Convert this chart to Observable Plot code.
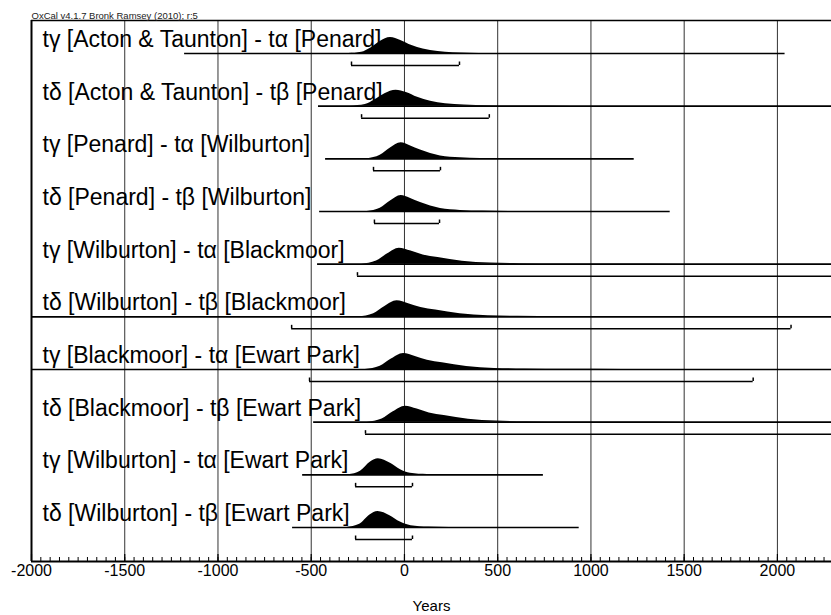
<!DOCTYPE html>
<html><head><meta charset="utf-8">
<script src="https://cdn.jsdelivr.net/npm/d3@7"></script>
<script src="https://cdn.jsdelivr.net/npm/@observablehq/plot@0.6"></script>
<style>body{margin:0;background:#fff} #chart svg{display:block}</style>
</head><body><div id="chart"></div>
<script>
// ---- data ----
const labels = [
  "tγ [Acton & Taunton] - tα [Penard]",
  "tδ [Acton & Taunton] - tβ [Penard]",
  "tγ [Penard] - tα [Wilburton]",
  "tδ [Penard] - tβ [Wilburton]",
  "tγ [Wilburton] - tα [Blackmoor]",
  "tδ [Wilburton] - tβ [Blackmoor]",
  "tγ [Blackmoor] - tα [Ewart Park]",
  "tδ [Blackmoor] - tβ [Ewart Park]",
  "tγ [Wilburton] - tα [Ewart Park]",
  "tδ [Wilburton] - tβ [Ewart Park]"
];
// extent of each distribution (baseline line), years
const lineStart = [-1179, -461, -423, -455, -466, -2600, -2600, -487, -546, -600];
const lineEnd   = [2041, 2600, 1232, 1425, 2600, 2600, 2600, 2600, 745, 937];
// 95.4% ranges (brackets), years
const rangeStart = [-284, -230, -166, -161, -252, -605, -509, -209, -262, -262];
const rangeEnd   = [295, 455, 193, 188, 2600, 2073, 1870, 2600, 43, 43];
// density outlines: years and relative heights
const densityYears = [
  [-300,-230,-180,-130,-75,-20,40,100,180,260,350,450],
  [-290,-210,-160,-105,-45,10,70,140,220,320,450,650,900],
  [-200,-130,-75,-18,30,86,140,193,300,407,520],
  [-200,-130,-75,-18,30,86,140,193,300,420,560],
  [-230,-150,-90,-28,35,100,180,310,460,620,850,1150,1500],
  [-245,-165,-105,-40,22,88,168,298,448,608,838,1138,1500],
  [-210,-130,-70,-5,58,123,203,333,483,643,873,1173,1500],
  [-200,-120,-60,5,68,133,213,343,493,653,883,1183,1500],
  [-300,-236,-182,-140,-75,-21,32,123,220],
  [-310,-240,-185,-142,-78,-22,35,130,240]
];
const densityHeights = [
  [0,0.08,0.35,0.75,1,0.82,0.5,0.28,0.12,0.05,0.015,0],
  [0,0.1,0.38,0.78,1,0.85,0.55,0.3,0.15,0.07,0.03,0.01,0],
  [0,0.22,0.68,1,0.82,0.55,0.33,0.18,0.06,0.02,0],
  [0,0.2,0.66,1,0.83,0.56,0.34,0.19,0.07,0.025,0],
  [0,0.2,0.65,1,0.82,0.58,0.42,0.19,0.07,0.03,0.012,0.004,0],
  [0,0.2,0.65,1,0.82,0.58,0.42,0.19,0.07,0.03,0.012,0.004,0],
  [0,0.2,0.65,1,0.82,0.58,0.42,0.19,0.07,0.03,0.012,0.004,0],
  [0,0.2,0.65,1,0.82,0.58,0.42,0.19,0.07,0.03,0.012,0.004,0],
  [0,0.22,0.8,1,0.72,0.32,0.1,0.02,0],
  [0,0.2,0.78,1,0.74,0.34,0.11,0.025,0]
];
const majorTicks = [-2000, -1500, -1000, -500, 0, 500, 1000, 1500, 2000];
const gridTicks = [-1500, -1000, -500, 0, 500, 1000, 1500, 2000];
const xLabel = "Years";
const note = "OxCal v4.1.7 Bronk Ramsey (2010); r:5";

// ---- layout ----
const W = 831, H = 615, mTop = 20, mBottom = 54, mLeft = 31, mRight = 0;
const step = 52.667;               // px per row
const px = p => p / step;          // px -> row units
const yTop = px(-33), yBot = px(561 - 53);
const peakPx = 16;

const rows = labels.map((label, i) => ({
  i, label,
  lineStart: lineStart[i], lineEnd: lineEnd[i],
  rangeStart: rangeStart[i], rangeEnd: rangeEnd[i],
  bar: i + px(12)
}));
const area = [];
densityYears.forEach((ys, i) => ys.forEach((yr, k) => {
  area.push({i, year: yr, base: i, top: i - densityHeights[i][k] * px(peakPx)});
}));
const minorTicks = d3.range(-2000, 2300, 50);

const chart = Plot.plot({
  width: W, height: H,
  marginTop: mTop, marginBottom: mBottom, marginLeft: mLeft, marginRight: mRight,
  style: {fontFamily: "'Liberation Sans', Arial, sans-serif", fontSize: "16px", background: "#fff", color: "#000"},
  x: {domain: [-2000, 2290], ticks: majorTicks, tickFormat: d => String(d), tickSize: 0, tickPadding: 3, label: null},
  y: {domain: [yTop, yBot], reverse: true, axis: null},
  marks: [
    Plot.ruleX(gridTicks, {stroke: "#333", strokeWidth: 1}),
    Plot.areaY(area, {x: "year", y1: "base", y2: "top", z: "i", fill: "#000", curve: "monotone-x", clip: true}),
    Plot.ruleY(rows, {y: "i", x1: "lineStart", x2: "lineEnd", stroke: "#000", strokeWidth: 1.6, clip: true}),
    Plot.ruleY(rows, {y: "bar", x1: "rangeStart", x2: "rangeEnd", stroke: "#000", strokeWidth: 1.5, clip: true}),
    Plot.ruleX(rows, {x: "rangeStart", y1: "bar", y2: d => d.bar - px(3.5), stroke: "#000", strokeWidth: 1.5, clip: true}),
    Plot.ruleX(rows, {x: "rangeEnd", y1: "bar", y2: d => d.bar - px(3.5), stroke: "#000", strokeWidth: 1.5, clip: true}),
    Plot.text(rows, {frameAnchor: "left", y: "i", text: "label", dx: 11, dy: -14, textAnchor: "start", lineAnchor: "middle", fontSize: 23, fill: "#000"}),
    Plot.ruleX(minorTicks, {y1: yBot, y2: yBot - px(4), stroke: "#000", strokeWidth: 1}),
    Plot.ruleX(majorTicks, {y1: yBot, y2: yBot - px(7), stroke: "#000", strokeWidth: 1.2}),
    Plot.ruleX([-2000], {stroke: "#000", strokeWidth: 2}),
    Plot.ruleY([yTop], {stroke: "#000", strokeWidth: 1.5}),
    Plot.ruleY([yBot], {stroke: "#000", strokeWidth: 2}),
    Plot.text([xLabel], {frameAnchor: "bottom", dy: 45, lineAnchor: "middle", fontSize: 15, fill: "#000"}),
    Plot.text([note], {frameAnchor: "top-left", dy: -1.5, lineAnchor: "bottom", textAnchor: "start", fontSize: 9.5, fill: "#222"})
  ]
});
document.getElementById("chart").appendChild(chart);
</script>
</body></html>
